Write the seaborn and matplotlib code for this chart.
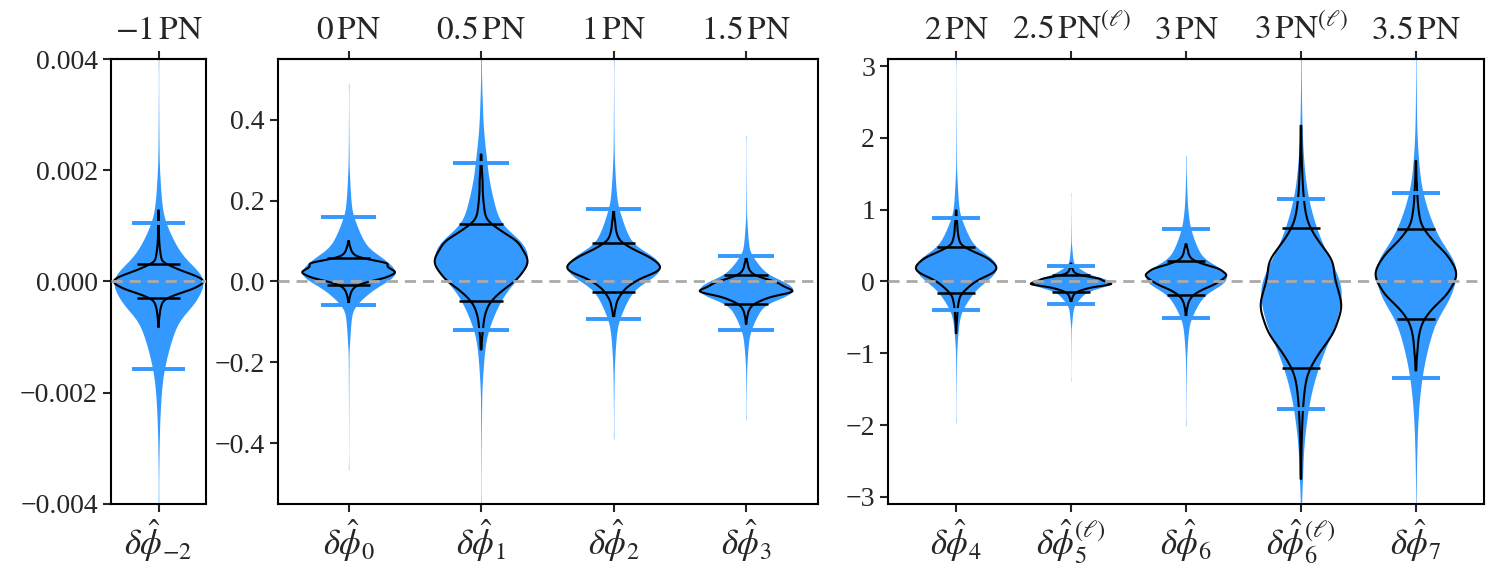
import numpy as np
import pandas as pd
import matplotlib
matplotlib.use("Agg")
from matplotlib import pyplot as plt
import seaborn as sns

# probability levels at which the quantiles below were read off the figure
# (first and last entries stand for the sample min / max)
LEVELS = [0.001, 0.01, 0.05, 0.25, 0.5, 0.75, 0.95, 0.99, 0.999]

PANELS = [
    ["dphi_m2"],
    ["dphi_0", "dphi_1", "dphi_2", "dphi_3"],
    ["dphi_4", "dphi_5l", "dphi_6", "dphi_6l", "dphi_7"],
]

bottom_labels = {
    "dphi_m2": r"$\delta\hat{\phi}_{-2}$",
    "dphi_0": r"$\delta\hat{\phi}_0$",
    "dphi_1": r"$\delta\hat{\phi}_1$",
    "dphi_2": r"$\delta\hat{\phi}_2$",
    "dphi_3": r"$\delta\hat{\phi}_3$",
    "dphi_4": r"$\delta\hat{\phi}_4$",
    "dphi_5l": r"$\delta\hat{\phi}_5^{(\ell)}$",
    "dphi_6": r"$\delta\hat{\phi}_6$",
    "dphi_6l": r"$\delta\hat{\phi}_6^{(\ell)}$",
    "dphi_7": r"$\delta\hat{\phi}_7$",
}

top_labels = {
    "dphi_m2": r"$-1\,\mathrm{PN}$",
    "dphi_0": r"$0\,\mathrm{PN}$",
    "dphi_1": r"$0.5\,\mathrm{PN}$",
    "dphi_2": r"$1\,\mathrm{PN}$",
    "dphi_3": r"$1.5\,\mathrm{PN}$",
    "dphi_4": r"$2\,\mathrm{PN}$",
    "dphi_5l": r"$2.5\,\mathrm{PN}^{(\ell)}$",
    "dphi_6": r"$3\,\mathrm{PN}$",
    "dphi_6l": r"$3\,\mathrm{PN}^{(\ell)}$",
    "dphi_7": r"$3.5\,\mathrm{PN}$",
}

# quantiles (at LEVELS) of the wide (blue) posteriors
blue_q = {
    "dphi_m2": [-4.0e-3, -2.6e-3, -1.58e-3, -0.55e-3, -0.1e-3, 0.28e-3, 1.06e-3, 2.0e-3, 4.0e-3],
    "dphi_0": [-0.465, -0.16, -0.057, 0.0, 0.03, 0.068, 0.159, 0.27, 0.49],
    "dphi_1": [-0.56, -0.25, -0.119, 0.0, 0.06, 0.12, 0.292, 0.42, 0.56],
    "dphi_2": [-0.389, -0.2, -0.092, 0.0, 0.037, 0.075, 0.18, 0.3, 0.55],
    "dphi_3": [-0.342, -0.2, -0.119, -0.045, -0.02, 0.005, 0.064, 0.15, 0.361],
    "dphi_4": [-1.97, -0.9, -0.40, 0.0, 0.2, 0.4, 0.884, 1.5, 3.1],
    "dphi_5l": [-1.39, -0.6, -0.315, -0.1, -0.02, 0.05, 0.21, 0.5, 1.24],
    "dphi_6": [-2.01, -1.0, -0.51, -0.1, 0.07, 0.25, 0.73, 1.2, 1.76],
    "dphi_6l": [-3.3, -2.6, -1.78, -0.8, -0.25, 0.25, 1.15, 2.0, 3.3],
    "dphi_7": [-3.3, -2.2, -1.35, -0.4, 0.05, 0.45, 1.23, 2.0, 3.3],
}

# quantiles (at LEVELS) of the narrow (black outline) posteriors
black_q = {
    "dphi_m2": [-0.82e-3, -0.55e-3, -0.30e-3, -0.12e-3, 0.0, 0.12e-3, 0.32e-3, 0.7e-3, 1.28e-3],
    "dphi_0": [-0.055, -0.03, -0.008, 0.012, 0.026, 0.042, 0.059, 0.08, 0.10],
    "dphi_1": [-0.168, -0.11, -0.049, 0.01, 0.05, 0.09, 0.143, 0.24, 0.314],
    "dphi_2": [-0.088, -0.06, -0.027, 0.015, 0.037, 0.06, 0.096, 0.14, 0.176],
    "dphi_3": [-0.105, -0.08, -0.056, -0.032, -0.02, -0.005, 0.016, 0.04, 0.061],
    "dphi_4": [-0.72, -0.45, -0.16, 0.07, 0.19, 0.31, 0.48, 0.75, 0.99],
    "dphi_5l": [-0.30, -0.22, -0.14, -0.06, -0.02, 0.03, 0.093, 0.17, 0.25],
    "dphi_6": [-0.49, -0.33, -0.185, -0.03, 0.07, 0.16, 0.28, 0.42, 0.52],
    "dphi_6l": [-2.75, -1.9, -1.21, -0.65, -0.25, 0.2, 0.74, 1.4, 2.17],
    "dphi_7": [-1.24, -0.9, -0.52, -0.15, 0.1, 0.35, 0.73, 1.2, 1.68],
}

y_limits = [(-0.004, 0.004), (-0.55, 0.55), (-3.1, 3.1)]
y_ticks = [
    [-0.004, -0.002, 0.0, 0.002, 0.004],
    [-0.4, -0.2, 0.0, 0.2, 0.4],
    [-3, -2, -1, 0, 1, 2, 3],
]
y_fmt = ["{:.3f}", "{:.1f}", "{:.0f}"]

BLUE = "#3399FF"
N_SAMPLES = 4000


def logit(p):
    p = np.asarray(p, dtype=float)
    return np.log(p / (1 - p))


def samples_from_quantiles(q):
    # deterministic inverse-CDF draw through the read-off quantiles,
    # interpolated in logit(p) so the tails taper off smoothly
    u = (np.arange(N_SAMPLES) + 0.5) / N_SAMPLES
    u = np.clip(u, LEVELS[0], LEVELS[-1])
    return np.interp(logit(u), logit(LEVELS), q)


def build_frame(qdict):
    rows = []
    for key, q in qdict.items():
        rows.append(pd.DataFrame({"param": key, "value": samples_from_quantiles(q)}))
    return pd.concat(rows, ignore_index=True)


def draw_panel(ax, keys, df_blue, df_black, ylim, ticks, fmt):
    sub_b = df_blue[df_blue.param.isin(keys)]
    sub_k = df_black[df_black.param.isin(keys)]
    sns.violinplot(data=sub_b, x="param", y="value", order=keys, ax=ax,
                   color=BLUE, saturation=1, linewidth=0, cut=0, inner=None,
                   density_norm="width", width=0.7, bw_adjust=1.0)
    sns.violinplot(data=sub_k, x="param", y="value", order=keys, ax=ax,
                   color="black", fill=False, linewidth=1.5, cut=0, inner=None,
                   density_norm="width", width=0.7, bw_adjust=1.0)

    for i, key in enumerate(keys):
        vb = sub_b.value[sub_b.param == key]
        vk = sub_k.value[sub_k.param == key]
        lo, hi = np.quantile(vb, [0.05, 0.95])
        ax.hlines([lo, hi], i - 0.21, i + 0.21, color=BLUE, lw=2.8, zorder=4)
        lo, hi = np.quantile(vk, [0.05, 0.95])
        ax.hlines([lo, hi], i - 0.165, i + 0.165, color="black", lw=1.8, zorder=5)

    ax.axhline(0, color="#aaaaaa", ls=(0, (4, 2.5)), lw=2, zorder=6)

    ax.set_ylim(*ylim)
    ax.set_yticks(ticks)
    ax.set_yticklabels([fmt.format(t).replace("-", "\u2212") for t in ticks])
    ax.set_xticks(range(len(keys)))
    ax.set_xticklabels([bottom_labels[k] for k in keys])
    ax.set_xlabel("")
    ax.set_ylabel("")

    top = ax.secondary_xaxis("top")
    top.set_xticks(range(len(keys)))
    top.set_xticklabels([top_labels[k] for k in keys], fontsize=24)
    top.tick_params(length=6, width=1.5)
    for s in top.spines.values():
        s.set_linewidth(1.5)

    ax.tick_params(length=6, width=1.5)
    ax.tick_params(axis="y", labelsize=20)
    ax.tick_params(axis="x", labelsize=25)
    for s in ax.spines.values():
        s.set_visible(True)
        s.set_linewidth(1.5)
        s.set_color("black")


def main():
    sns.set_style("ticks")
    plt.rcParams["font.family"] = ["Liberation Serif", "DejaVu Serif"]
    plt.rcParams["mathtext.fontset"] = "stix"

    df_blue = build_frame(blue_q)
    df_black = build_frame(black_q)

    fig = plt.figure(figsize=(14.99, 5.74), dpi=100)
    boxes = [
        [0.07405, 0.122, 0.06338, 0.7752],
        [0.18526, 0.122, 0.36024, 0.7752],
        [0.59260, 0.122, 0.39720, 0.7752],
    ]
    xlims = [(-0.373, 0.373), (-0.535, 3.54), (-0.59, 4.59)]

    for keys, box, xl, yl, yt, fm in zip(PANELS, boxes, xlims, y_limits, y_ticks, y_fmt):
        ax = fig.add_axes(box)
        draw_panel(ax, keys, df_blue, df_black, yl, yt, fm)
        ax.set_xlim(*xl)

    fig.savefig("out.png", dpi=100)


if __name__ == "__main__":
    main()
